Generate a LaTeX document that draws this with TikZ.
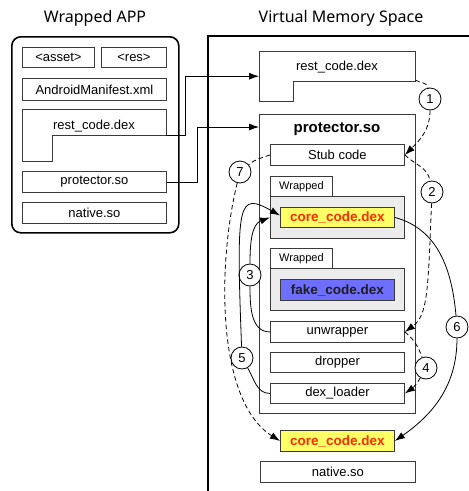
\documentclass[tikz,border=0pt]{standalone}
\usepackage{fontspec}
\setmainfont{Liberation Sans}
\newfontfamily\titlefont{Noto Sans}
\usetikzlibrary{positioning,calc,arrows.meta}
\definecolor{VLine}{HTML}{3A3A3A}
\definecolor{VGrayLite}{HTML}{ECECEC}
\definecolor{VYellow}{HTML}{FFFF66}
\definecolor{VRed}{HTML}{FF2A00}
\definecolor{VBlue}{HTML}{6E6EFF}
\definecolor{VInk}{HTML}{1E1E1E}

\begin{document}
\begin{tikzpicture}[x=1pt, y=-1pt,
  every node/.style={font=\fontsize{13}{15}\selectfont, text=black},
  file/.style ={draw=VLine, fill=white, line width=0.9pt, anchor=north west, inner sep=0pt,
                minimum width=134, minimum height=21},
  core/.style ={file, fill=VYellow, minimum width=114, minimum height=20,
                font=\fontsize{13.5}{15}\selectfont\bfseries, text=VRed},
  wrapbox/.style={file, fill=VGrayLite, minimum height=42},
  tab/.style  ={file, minimum width=62, minimum height=20, font=\fontsize{11}{13}\selectfont},
  num/.style  ={circle, draw=black, fill=white, line width=0.8pt, minimum size=22pt,
                inner sep=0pt, font=\fontsize{13}{15}\selectfont},
  title/.style={font=\titlefont\fontsize{16}{19}\selectfont},
  outline/.style={draw=VLine, line width=0.9pt},
  arrow/.style={-{Latex[length=10pt,width=7pt]}, draw=black, line width=0.8pt},
  flow/.style ={arrow, dash pattern=on 4.5pt off 3pt},
]
\useasboundingbox (0,0) rectangle (469,491);
% wrapped app
\node[title] (apptitle) at (95,18) {Wrapped APP};
\node[draw=black, line width=1.6pt, rounded corners=9pt, anchor=north west,
      minimum width=167, minimum height=196] (app) at (11,36) {};
\node[file, minimum width=72, minimum height=20] (asset) at (22,47) {<asset>};
\node[file, minimum width=65, minimum height=20] (res) at (101,47) {<res>};
\node[file, minimum width=144, minimum height=22] (manifest) at (22,78) {AndroidManifest.xml};
\node[anchor=north west, inner sep=0pt, minimum width=144, minimum height=52] (lrest) at (22,109) {};
\draw[outline] (22,109) -- (166,109) -- (166,135) -- (52,135) -- (52,161) -- (22,161) -- cycle;
\node (lresttxt) at (94,126) {rest\_code.dex};
\node[file, minimum width=144] (lprot) at (22,171) {protector.so};
\node[file, minimum width=144] (lnative) at (22,202) {native.so};

% virtual memory
\node[title] (vmstitle) at (341,18) {Virtual Memory Space};
\draw[line width=2pt] (208,491) |- (469,36);
\node[anchor=north west, inner sep=0pt, minimum width=156, minimum height=50] (rrest) at (259,51) {};
\draw[outline] (259,51) -- (415,51) -- (415,81) -- (293,81) -- (293,101) -- (259,101) -- cycle;
\node (rresttxt) at (337,67) {rest\_code.dex};
\node[file, minimum width=156, minimum height=299] (prot) at (259,114) {};
\node[font=\fontsize{15}{18}\selectfont\bfseries] (prottxt) at (337,129) {protector.so};
\node[file] (stub) at (270,144) {Stub code};
\node[tab] (tab1) at (270,176) {Wrapped};
\node[wrapbox] (wrap1) at (270,196) {};
\node[core] (core1) at (280,207) {core\_code.dex};
\node[tab] (tab2) at (270,248) {Wrapped};
\node[wrapbox] (wrap2) at (270,268) {};
\node[core, fill=VBlue, text=VInk, minimum height=21] (fake) at (280,279) {fake\_code.dex};
\node[file] (unwrap) at (270,321) {unwrapper};
\node[file, minimum height=20] (dropper) at (270,352) {dropper};
\node[file, minimum height=20] (loader) at (270,383) {dex\_loader};
\node[core, minimum height=21] (core2) at (280,430) {core\_code.dex};
\node[file, minimum width=155] (rnative) at (260,461) {native.so};

% steps
\node[num] (n1) at (430,99) {1};
\node[num] (n2) at (432,192) {2};
\node[num] (n3) at (250,275) {3};
\node[num] (n4) at (426,368) {4};
\node[num] (n5) at (242,358) {5};
\node[num] (n6) at (457,327) {6};
\node[num] (n7) at (240,172) {7};

\draw[arrow] (lrest.east) -- ++(19,0) |- (rrest.west);
\draw[arrow] (lprot.east) -- ++(30,0) |- ([yshift=-13pt]prot.north west);
\draw[flow] ([yshift=-4pt]rrest.east) to[out=-30,in=100] (n1) to[out=-90,in=45] (stub.east);
\draw[flow] (stub.east) to[out=-45,in=100] (n2) .. controls (428,290) and (428,315) .. (unwrap.east);
\draw[flow] (unwrap.east) to[out=-40,in=110] (n4) to[out=-120,in=35] (loader.east);
\draw[arrow] (unwrap.west) to[out=180,in=-90] (n3) to[out=90,in=200] (wrap1.west);
\draw[arrow] (loader.west) to[out=180,in=-60] (n5) .. controls (236,200) and (238,192) .. ([yshift=2pt]core1.west);
\draw[arrow] (core1.east) to[out=-15,in=95] (n6) to[out=-90,in=35] (core2.east);
\draw[flow] (stub.west) to[out=200,in=40] (n7) .. controls (218,260) and (215,400) .. (core2.west);
\end{tikzpicture}
\end{document}
